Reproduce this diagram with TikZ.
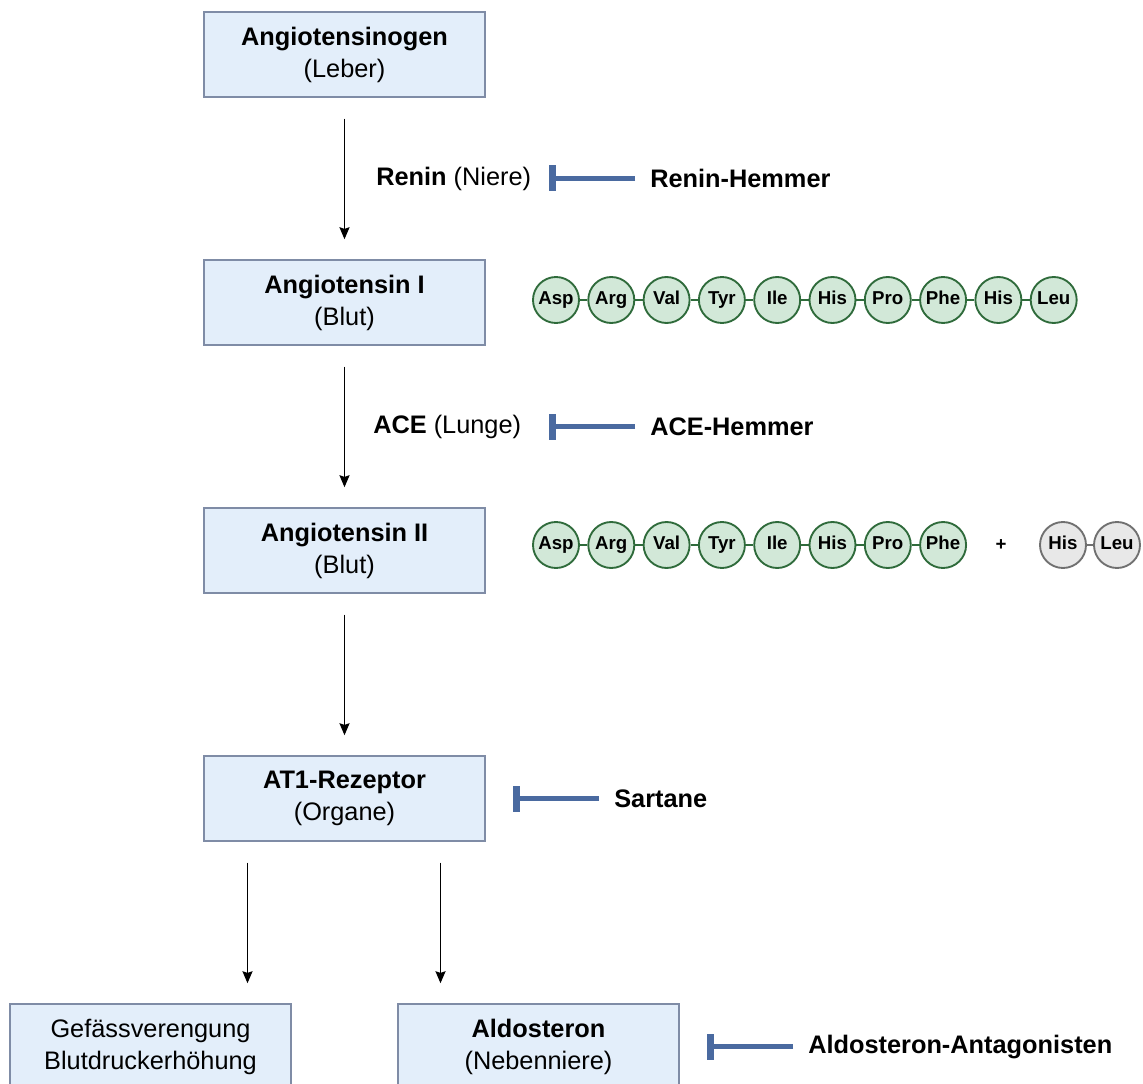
\documentclass[tikz,border=0pt]{standalone}
\usepackage{fontspec}
\setmainfont{Liberation Sans}
\usetikzlibrary{arrows.meta,calc}
\definecolor{boxfill}{HTML}{E3EEFA}
\definecolor{boxdraw}{HTML}{7F8CA6}
\definecolor{pepfill}{HTML}{D2E8D8}
\definecolor{pepdraw}{HTML}{2F6B3B}
\definecolor{greyfill}{HTML}{E8E8E8}
\definecolor{greydraw}{HTML}{707070}
\definecolor{inhibcol}{HTML}{4A6AA0}
\tikzset{
  stagebox/.style={draw=boxdraw, fill=boxfill, line width=1.1pt,
    minimum width=210.75pt, minimum height=63.75pt, inner sep=0pt,
    align=center, font=\fontsize{19}{24}\selectfont},
  plainlabel/.style={inner sep=0pt, anchor=west, font=\fontsize{19}{24}\selectfont},
  amino/.style={circle, draw=pepdraw, fill=pepfill, line width=1.4pt,
    minimum size=34.5pt, inner sep=0pt, text height=1.45ex, text depth=0.05ex,
    font=\fontsize{14}{16}\selectfont\bfseries},
  aminogrey/.style={amino, draw=greydraw, fill=greyfill},
  bond/.style={draw=pepdraw, line width=1.1pt},
  bondgrey/.style={draw=greydraw, line width=1.1pt},
  flow/.style={draw=black, line width=1.2pt, -{Stealth[length=9pt,width=7.5pt,inset=1.2pt]}},
  blockbar/.style={draw=inhibcol, line width=4pt},
  blocktick/.style={fill=inhibcol}
}
\newcommand{\inhibitor}[3]{% name, bar start (x,y), label
  \node[plainlabel, font=\fontsize{19}{24}\selectfont\bfseries] (#1) at ($#2+(98,0)$) {#3};
  \coordinate (#1bar) at #2;
  \draw[blockbar] ($(#1.west)+(-15,0)$) -- (#1bar);
  \fill[blocktick] ($(#1bar)+(-3.5,-13)$) rectangle ($(#1bar)+(3.5,13)$);
}
\begin{document}
\begin{tikzpicture}[x=0.75pt, y=-0.75pt]
\clip (0,0) rectangle (1143,1084);
\fill[white] (0,0) rectangle (1143,1084);

% pathway stages
\node[stagebox] (ogen) at (344.5,54.5) {\textbf{Angiotensinogen}\\(Leber)};
\node[stagebox] (ang1) at (344.5,302.5) {\textbf{Angiotensin I}\\(Blut)};
\node[stagebox] (ang2) at (344.5,550.5) {\textbf{Angiotensin II}\\(Blut)};
\node[stagebox] (at1) at (344.5,798.5) {\textbf{AT1-Rezeptor}\\(Organe)};
\node[stagebox] (vaso) at (150.5,1046.5) {Gefässverengung\\Blutdruckerhöhung};
\node[stagebox] (aldo) at (538.5,1046.5) {\textbf{Aldosteron}\\(Nebenniere)};

% conversion arrows
\draw[flow] ($(ogen.south)+(0,21)$) -- ($(ang1.north)+(0,-20)$);
\draw[flow] ($(ang1.south)+(0,21)$) -- ($(ang2.north)+(0,-20)$);
\draw[flow] ($(ang2.south)+(0,21)$) -- ($(at1.north)+(0,-20)$);
\coordinate (at1l) at ($(at1.south)+(-97,21)$);
\coordinate (at1r) at ($(at1.south)+(96,21)$);
\draw[flow] (at1l) -- (at1l |- {$(vaso.north)+(0,-20)$});
\draw[flow] (at1r) -- (at1r |- {$(aldo.north)+(0,-20)$});

% enzymes
\node[plainlabel] (renin) at (376,178.5) {\textbf{Renin} (Niere)};
\node[plainlabel] (ace) at (373,426.5) {\textbf{ACE} (Lunge)};

% inhibitors
\inhibitor{rh}{(552,178.5)}{Renin-Hemmer}
\inhibitor{ah}{(552,426.5)}{ACE-Hemmer}
\inhibitor{sar}{(516,798.5)}{Sartane}
\inhibitor{aa}{(710,1046.5)}{Aldosteron-Antagonisten}

% Angiotensin I decapeptide
\foreach \aa [count=\i] in {Asp,Arg,Val,Tyr,Ile,His,Pro,Phe,His,Leu}{
  \node[amino] (a\i) at ({556+55.3*(\i-1)},300) {\aa};
}
\foreach \i [evaluate=\i as \j using int(\i+1)] in {1,...,9}{
  \draw[bond] (a\i) -- (a\j);
}

% Angiotensin II octapeptide plus cleaved dipeptide
\foreach \aa [count=\i] in {Asp,Arg,Val,Tyr,Ile,His,Pro,Phe}{
  \node[amino] (b\i) at ({556+55.3*(\i-1)},545) {\aa};
}
\foreach \i [evaluate=\i as \j using int(\i+1)] in {1,...,7}{
  \draw[bond] (b\i) -- (b\j);
}
\node[font=\fontsize{14}{16}\selectfont\bfseries] (plus) at (1001,545) {+};
\node[aminogrey] (g1) at (1063,545) {His};
\node[aminogrey] (g2) at (1117,545) {Leu};
\draw[bondgrey] (g1) -- (g2);
\end{tikzpicture}
\end{document}
